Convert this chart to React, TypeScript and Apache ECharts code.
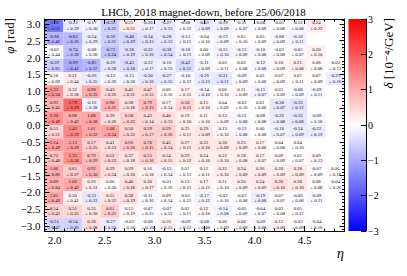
import React, { useEffect, useRef } from "react";
import * as echarts from "echarts";

const TITLE = "LHCb, 2018 magnet-down, before 25/06/2018";
const X_TITLE = "η";
const Y_TITLE = "{i|φ} [rad]";
const Z_TITLE = "{i|δ} [10⁻⁴/GeV]";

const ETA_MIN = 1.9;
const ETA_MAX = 4.9;
const N_ETA = 16;
const PHI_MIN = -Math.PI;
const PHI_MAX = Math.PI;
const N_PHI = 16;

const X_MAJOR = [2.0, 2.5, 3.0, 3.5, 4.0, 4.5];
const Y_MAJOR = [-3.0, -2.5, -2.0, -1.5, -1.0, -0.5, 0.0, 0.5, 1.0, 1.5, 2.0, 2.5, 3.0];
const Z_TICKS = [-3, -2, -1, 0, 1, 2, 3];
const PALETTE = ["#0000ff", "#ffffff", "#ff0000"];

// rows listed from the top (phi near +pi) to the bottom (phi near -pi)
const deltaRows: (number | null)[][] = [
  [-1.58, -0.23, -0.17, -0.59, 0.25, -0.20, -0.27, -0.08, -0.22, -0.19, -0.11, -0.08, -0.03, -0.12, 0.24, null],
  [-0.90, -0.83, -0.24, -0.56, -0.48, -0.34, -0.28, -0.13, -0.04, -0.13, 0.05, 0.05, -0.08, -0.18, null, null],
  [-0.02, -0.74, -0.08, -0.72, -0.38, -0.32, -0.38, -0.18, 0.00, -0.15, -0.13, -0.10, -0.03, -0.05, 0.20, null],
  [-0.59, -0.99, -0.85, -0.29, -0.43, -0.22, -0.16, -0.42, -0.11, 0.05, 0.03, -0.12, 0.10, 0.21, 0.08, -0.02],
  [0.10, 0.21, -0.26, -0.12, -0.15, -0.30, -0.27, -0.10, -0.26, -0.31, -0.09, 0.02, 0.07, 0.07, 0.07, -0.21],
  [1.23, 0.32, 0.98, 0.43, 0.45, 0.47, 0.06, 0.17, -0.14, 0.06, 0.11, -0.15, 0.03, -0.08, -0.09, null],
  [0.92, 1.79, -0.16, 0.90, 0.38, 0.79, 0.17, 0.50, 0.15, 0.04, -0.03, 0.01, -0.30, -0.33, null, null],
  [1.30, 0.98, 1.08, 0.39, 0.58, 0.43, 0.40, 0.19, 0.11, 0.13, -0.12, -0.08, -0.26, -0.32, -0.09, null],
  [0.51, 1.41, 1.01, 1.08, 0.50, 0.59, 0.59, 0.25, 0.29, 0.13, -0.12, 0.00, -0.18, -0.24, -0.22, null],
  [1.14, 1.13, 0.57, 0.41, 0.66, 0.70, 0.42, 0.27, 0.32, 0.30, 0.23, 0.17, 0.04, 0.04, null, null],
  [0.72, 1.33, 0.79, 0.52, 0.37, 0.55, 0.34, 0.29, 0.24, 0.22, 0.18, 0.17, 0.09, 0.01, 0.09, null],
  [1.00, 0.61, 0.92, 0.39, 0.29, 0.16, -0.15, 0.01, 0.12, 0.22, 0.24, 0.26, 0.20, 0.28, -0.07, 0.06],
  [0.89, 1.06, 0.26, 0.06, 0.40, 0.30, -0.01, 0.13, 0.17, 0.11, 0.20, 0.24, 0.36, 0.28, 0.08, -0.04],
  [1.05, 0.20, -0.31, 0.35, 0.38, -0.11, 0.09, -0.01, -0.17, -0.02, -0.03, -0.19, 0.07, -0.06, -0.09, null],
  [0.54, 0.51, 0.33, 0.61, 0.15, -0.07, -0.07, 0.02, 0.12, -0.14, -0.05, -0.04, 0.03, 0.05, null, null],
  [-0.51, -0.54, 0.38, -0.27, -0.03, -0.08, 0.16, -0.09, -0.08, 0.06, 0.08, -0.09, 0.12, -0.03, -0.04, null],
];

const errRows: (number | null)[][] = [
  [0.52, 0.39, 0.30, 0.25, 0.21, 0.17, 0.13, 0.12, 0.09, 0.09, 0.07, 0.09, 0.08, 0.08, 0.22, null],
  [0.46, 0.36, 0.29, 0.21, 0.19, 0.15, 0.13, 0.11, 0.10, 0.09, 0.10, 0.09, 0.09, 0.11, null, null],
  [0.44, 0.38, 0.30, 0.24, 0.19, 0.16, 0.14, 0.11, 0.09, 0.10, 0.09, 0.08, 0.08, 0.07, 0.10, null],
  [0.85, 0.41, 0.37, 0.28, 0.18, 0.17, 0.13, 0.12, 0.09, 0.11, 0.08, 0.08, 0.09, 0.08, 0.08, 0.13],
  [0.69, 0.44, 0.35, 0.26, 0.20, 0.16, 0.15, 0.12, 0.13, 0.11, 0.09, 0.08, 0.09, 0.11, 0.09, 0.16],
  [0.50, 0.38, 0.35, 0.26, 0.21, 0.15, 0.16, 0.12, 0.10, 0.10, 0.09, 0.07, 0.09, 0.09, 0.11, null],
  [0.45, 0.39, 0.28, 0.21, 0.18, 0.15, 0.14, 0.11, 0.10, 0.09, 0.10, 0.08, 0.07, 0.12, null, null],
  [0.49, 0.42, 0.28, 0.26, 0.22, 0.14, 0.13, 0.10, 0.10, 0.09, 0.08, 0.08, 0.08, 0.08, 0.18, null],
  [0.51, 0.39, 0.32, 0.24, 0.22, 0.17, 0.16, 0.11, 0.09, 0.10, 0.08, 0.08, 0.07, 0.09, 0.19, null],
  [0.49, 0.39, 0.35, 0.23, 0.20, 0.15, 0.14, 0.11, 0.10, 0.09, 0.09, 0.08, 0.08, 0.10, null, null],
  [0.48, 0.38, 0.29, 0.23, 0.18, 0.16, 0.15, 0.12, 0.10, 0.10, 0.08, 0.07, 0.09, 0.07, 0.13, null],
  [0.86, 0.37, 0.30, 0.24, 0.20, 0.18, 0.14, 0.13, 0.11, 0.10, 0.09, 0.09, 0.09, 0.09, 0.09, 0.18],
  [0.84, 0.42, 0.31, 0.30, 0.18, 0.17, 0.16, 0.13, 0.12, 0.10, 0.09, 0.09, 0.10, 0.10, 0.08, 0.26],
  [0.49, 0.41, 0.31, 0.22, 0.19, 0.16, 0.14, 0.12, 0.12, 0.10, 0.08, 0.08, 0.07, 0.08, 0.11, null],
  [0.43, 0.35, 0.30, 0.21, 0.19, 0.15, 0.13, 0.11, 0.10, 0.08, 0.09, 0.07, 0.08, 0.12, null, null],
  [0.47, 0.36, 0.28, 0.24, 0.20, 0.16, 0.15, 0.12, 0.08, 0.09, 0.09, 0.08, 0.09, 0.09, 0.16, null],
];

const FONT = "'Liberation Serif', 'Times New Roman', 'DejaVu Serif', serif";

function minorTicks(lo: number, hi: number, step: number, majors: number[]): number[] {
  const out: number[] = [];
  const start = Math.ceil(lo / step - 1e-9);
  const end = Math.floor(hi / step + 1e-9);
  for (let k = start; k <= end; k++) {
    const v = Math.round(k * step * 1000) / 1000;
    if (!majors.some((m) => Math.abs(m - v) < 1e-6)) out.push(v);
  }
  return out;
}

const fmtMinus = (s: string) => s.replace("-", "−");

export default function App() {
  const ref = useRef<HTMLDivElement>(null);
  useEffect(() => {
    if (!ref.current) return;
    const chart = echarts.init(ref.current, undefined, { renderer: "svg" });

    const dEta = (ETA_MAX - ETA_MIN) / N_ETA;
    const dPhi = (PHI_MAX - PHI_MIN) / N_PHI;
    const cells: number[][] = [];
    deltaRows.forEach((row, r) => {
      const phiHi = PHI_MAX - r * dPhi;
      const phiLo = phiHi - dPhi;
      row.forEach((v, c) => {
        const e = errRows[r][c];
        if (v === null || e === null) return;
        const etaLo = ETA_MIN + c * dEta;
        cells.push([etaLo, etaLo + dEta, phiLo, phiHi, v, e]);
      });
    });

    const X_MINOR = minorTicks(ETA_MIN, ETA_MAX, 0.1, X_MAJOR);
    const Y_MINOR = minorTicks(PHI_MIN, PHI_MAX, 0.1, Y_MAJOR);

    const tickStyle = { color: "#000", width: 1 };
    const xAx = (pos: string, vals: number[], len: number, labels: boolean, line: boolean) => ({
      type: "value",
      gridIndex: 0,
      min: ETA_MIN,
      max: ETA_MAX,
      position: pos,
      z: 10,
      axisLine: { show: line, onZero: false, lineStyle: tickStyle },
      axisTick: { show: true, inside: true, length: len, customValues: vals, lineStyle: tickStyle },
      axisLabel: {
        show: labels,
        customValues: X_MAJOR,
        formatter: (v: number) => fmtMinus(v.toFixed(1)),
        fontFamily: FONT,
        fontSize: 11,
        color: "#000",
        margin: 3,
      },
      splitLine: { show: false },
    });
    const yAx = (pos: string, vals: number[], len: number, labels: boolean, line: boolean) => ({
      type: "value",
      gridIndex: 0,
      min: PHI_MIN,
      max: PHI_MAX,
      position: pos,
      z: 10,
      axisLine: { show: line, onZero: false, lineStyle: tickStyle },
      axisTick: { show: true, inside: true, length: len, customValues: vals, lineStyle: tickStyle },
      axisLabel: {
        show: labels,
        customValues: Y_MAJOR,
        formatter: (v: number) => fmtMinus(v.toFixed(1)),
        fontFamily: FONT,
        fontSize: 11,
        color: "#000",
        margin: 4,
      },
      splitLine: { show: false },
    });

    const option: any = {
      animation: false,
      backgroundColor: "#fff",
      grid: [
        { left: 44.5, top: 19, width: 300, height: 212 },
        { left: 348.5, top: 19, width: 17.5, height: 212 },
      ],
      xAxis: [
        xAx("bottom", X_MAJOR, 5, true, true),
        xAx("bottom", X_MINOR, 2.5, false, false),
        xAx("top", X_MAJOR, 5, false, true),
        xAx("top", X_MINOR, 2.5, false, false),
        { type: "value", gridIndex: 1, min: 0, max: 1, show: false },
      ],
      yAxis: [
        yAx("left", Y_MAJOR, 5, true, true),
        yAx("left", Y_MINOR, 2.5, false, false),
        yAx("right", Y_MAJOR, 5, false, true),
        yAx("right", Y_MINOR, 2.5, false, false),
        {
          type: "value",
          gridIndex: 1,
          min: Z_TICKS[0],
          max: Z_TICKS[Z_TICKS.length - 1],
          interval: 1,
          position: "right",
          z: 10,
          axisLine: { show: true, onZero: false, lineStyle: { color: "#000", width: 1 } },
          axisTick: { show: true, inside: true, length: 5, lineStyle: { color: "#000", width: 1 } },
          axisLabel: {
            formatter: (v: number) => fmtMinus(String(v)),
            fontFamily: FONT,
            fontSize: 10,
            color: "#000",
            margin: 2,
          },
          splitLine: { show: false },
        },
      ],
      visualMap: {
        show: false,
        type: "continuous",
        min: Z_TICKS[0],
        max: Z_TICKS[Z_TICKS.length - 1],
        dimension: 4,
        seriesIndex: 0,
        inRange: { color: PALETTE },
      },
      series: [
        {
          type: "custom",
          xAxisIndex: 0,
          yAxisIndex: 0,
          data: cells,
          encode: { x: [0, 1], y: [2, 3] },
          renderItem: (params: any, api: any) => {
            const p0 = api.coord([api.value(0), api.value(3)]);
            const p1 = api.coord([api.value(1), api.value(2)]);
            const x = p0[0];
            const y = p0[1];
            const w = p1[0] - p0[0];
            const h = p1[1] - p0[1];
            const v = api.value(4) as number;
            const e = api.value(5) as number;
            const txt = {
              align: "center",
              verticalAlign: "middle",
              fontFamily: FONT,
              fontSize: 4.8,
              fill: "#111",
            };
            return {
              type: "group",
              children: [
                { type: "rect", shape: { x, y, width: w, height: h }, style: { fill: api.visual("color") } },
                { type: "text", style: { ...txt, text: v.toFixed(2), x: x + w / 2, y: y + h / 2 - 2.7 } },
                { type: "text", style: { ...txt, text: "± " + e.toFixed(2), x: x + w / 2, y: y + h / 2 + 2.7 } },
              ],
            };
          },
        },
        {
          type: "custom",
          xAxisIndex: 4,
          yAxisIndex: 4,
          data: [[0, 1, Z_TICKS[0], Z_TICKS[Z_TICKS.length - 1]]],
          encode: { x: [0, 1], y: [2, 3] },
          renderItem: (params: any, api: any) => {
            const p0 = api.coord([api.value(0), api.value(3)]);
            const p1 = api.coord([api.value(1), api.value(2)]);
            return {
              type: "rect",
              shape: { x: p0[0], y: p0[1], width: p1[0] - p0[0], height: p1[1] - p0[1] },
              style: {
                fill: {
                  type: "linear",
                  x: 0,
                  y: 0,
                  x2: 0,
                  y2: 1,
                  colorStops: [
                    { offset: 0, color: PALETTE[2] },
                    { offset: 0.5, color: PALETTE[1] },
                    { offset: 1, color: PALETTE[0] },
                  ],
                },
              },
            };
          },
        },
      ],
      graphic: [
        {
          type: "text",
          x: 203.5,
          y: 11.5,
          z: 100,
          style: {
            text: TITLE,
            align: "center",
            verticalAlign: "middle",
            fontFamily: FONT,
            fontSize: 11,
            fill: "#000",
          },
        },
        {
          type: "text",
          x: 9,
          y: 18,
          rotation: Math.PI / 2,
          style: {
            text: Y_TITLE,
            align: "right",
            verticalAlign: "middle",
            fontFamily: FONT,
            fontSize: 13,
            fill: "#000",
            rich: { i: { fontStyle: "italic", fontFamily: FONT, fontSize: 13 } },
          },
        },
        {
          type: "text",
          x: 388,
          y: 18,
          rotation: Math.PI / 2,
          style: {
            text: Z_TITLE,
            align: "right",
            verticalAlign: "middle",
            fontFamily: FONT,
            fontSize: 13,
            fill: "#000",
            rich: { i: { fontStyle: "italic", fontFamily: FONT, fontSize: 13 } },
          },
        },
        {
          type: "text",
          x: 344,
          y: 253,
          style: {
            text: X_TITLE,
            align: "right",
            verticalAlign: "middle",
            fontFamily: FONT,
            fontStyle: "italic",
            fontSize: 14,
            fill: "#000",
          },
        },
      ],
    };
    chart.setOption(option);
    return () => chart.dispose();
  }, []);
  return <div ref={ref} style={{ position: "fixed", left: 0, top: 0, width: 407, height: 276 }} />;
}
